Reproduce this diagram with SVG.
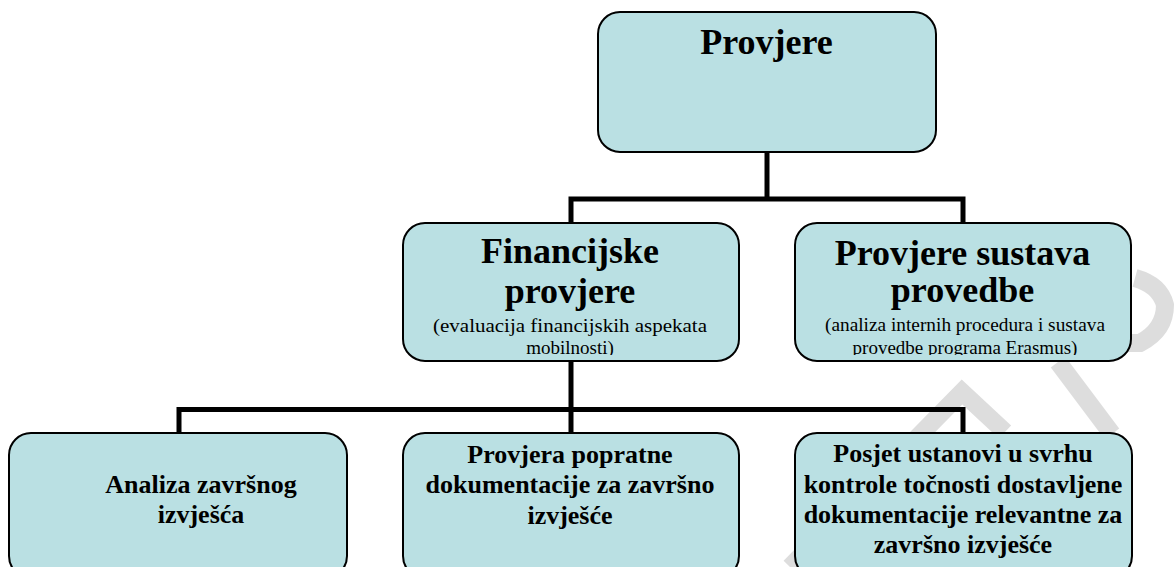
<svg xmlns="http://www.w3.org/2000/svg" width="1176" height="567" viewBox="0 0 1176 567">
<style>
.box{fill:#BAE0E3;stroke:#000;stroke-width:2}
.con{fill:none;stroke:#000;stroke-width:5}
.wm{fill:none;stroke:#d4d4d4;stroke-width:18;stroke-linecap:butt;opacity:0.8}
.t1{font-family:"Liberation Serif","Times New Roman",serif;font-weight:bold;font-size:36px;fill:#000;text-anchor:middle}
.t2{font-family:"Liberation Serif","Times New Roman",serif;font-size:19px;fill:#000;text-anchor:middle}
.t3{font-family:"Liberation Serif","Times New Roman",serif;font-weight:bold;font-size:26px;fill:#000;text-anchor:middle}
</style>
<defs>
<clipPath id="c1"><rect x="403" y="223" width="336" height="132"/></clipPath>
<clipPath id="c2"><rect x="795" y="223" width="336" height="132"/></clipPath>
</defs>
<rect width="1176" height="567" fill="#fff"/>
<g id="watermark">
<path class="wm" d="M790,567 L962,392 L1005,432"/>
<path class="wm" d="M1058,362 L1112,434"/>
<path class="wm" d="M1100,343 L1140,343 Q1165,330 1165,305 Q1160,285 1135,278"/>
</g>
<g id="connectors">
<path class="con" d="M767,152 V199"/>
<path class="con" d="M571,223 V199 H963 V223"/>
<path class="con" d="M571,361 V433"/>
<path class="con" d="M179,433 V409.5 H963 V433"/>
</g>
<g id="n-provjere">
<rect class="box" x="598" y="12" width="338" height="140" rx="22"/>
<text class="t1" x="766.5" y="54">Provjere</text>
</g>
<g id="n-financijske">
<rect class="box" x="403" y="223" width="336" height="138" rx="22"/>
<text class="t1" x="570" y="263">Financijske</text>
<text class="t1" x="570" y="303">provjere</text>
<g clip-path="url(#c1)">
<text class="t2" x="570" y="331.5" textLength="274" lengthAdjust="spacingAndGlyphs">(evaluacija  financijskih aspekata</text>
<text class="t2" x="570" y="354">mobilnosti)</text>
</g>
</g>
<g id="n-sustava">
<rect class="box" x="795" y="223" width="336" height="138" rx="22"/>
<text class="t1" x="962.5" y="265">Provjere sustava</text>
<text class="t1" x="962.5" y="302">provedbe</text>
<g clip-path="url(#c2)">
<text class="t2" x="965" y="331" textLength="280" lengthAdjust="spacingAndGlyphs">(analiza internih procedura i sustava</text>
<text class="t2" x="965" y="354">provedbe programa Erasmus)</text>
</g>
</g>
<g id="n-analiza">
<rect class="box" x="9" y="433" width="338" height="145" rx="22"/>
<text class="t3" x="201" y="493">Analiza završnog</text>
<text class="t3" x="201" y="523">izvješća</text>
</g>
<g id="n-popratne">
<rect class="box" x="403" y="433" width="336" height="145" rx="22"/>
<text class="t3" x="570" y="463">Provjera popratne</text>
<text class="t3" x="570" y="493">dokumentacije za završno</text>
<text class="t3" x="570" y="524">izvješće</text>
</g>
<g id="n-posjet">
<rect class="box" x="795" y="433" width="337" height="145" rx="22"/>
<text class="t3" x="963" y="462">Posjet ustanovi u svrhu</text>
<text class="t3" x="963" y="493">kontrole točnosti dostavljene</text>
<text class="t3" x="963" y="523">dokumentacije relevantne za</text>
<text class="t3" x="963" y="553">završno izvješće</text>
</g>
</svg>
